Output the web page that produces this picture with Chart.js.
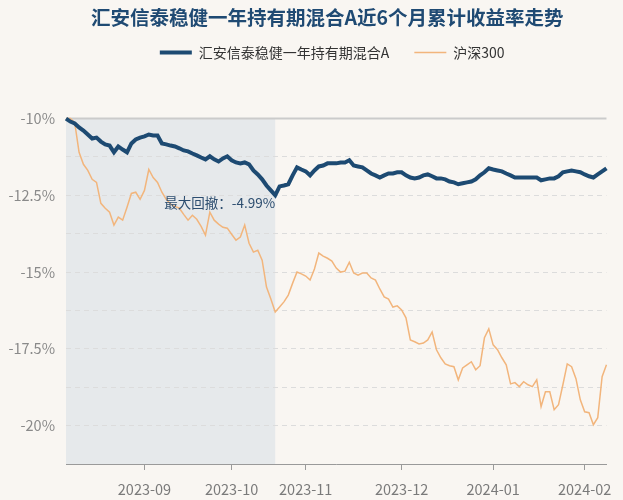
<!DOCTYPE html>
<html>
<head>
<meta charset="utf-8">
<script src="https://cdn.jsdelivr.net/npm/chart.js@4.4.1/dist/chart.umd.min.js"></script>
<style>
  html, body { margin: 0; padding: 0; background: #f9f6f2; }
  #wrap { width: 623px; height: 500px; }
</style>
</head>
<body>
<div id="wrap"><canvas id="cnv" width="623" height="500"></canvas></div>
<script>
// trading days shown on the x axis, by month
const tradingDays = [
  ['2023-08', [8, 9, 10, 11, 14, 15, 16, 17, 18, 21, 22, 23, 24, 25, 28, 29, 30, 31]],
  ['2023-09', [1, 4, 5, 6, 7, 8, 11, 12, 13, 14, 15, 18, 19, 20, 21, 22, 25, 26, 27, 28]],
  ['2023-10', [9, 10, 11, 12, 13, 16, 17, 18, 19, 20, 23, 24, 25, 26, 27, 30, 31]],
  ['2023-11', [1, 2, 3, 6, 7, 8, 9, 10, 13, 14, 15, 16, 17, 20, 21, 22, 23, 24, 27, 28, 29, 30]],
  ['2023-12', [1, 4, 5, 6, 7, 8, 11, 12, 13, 14, 15, 18, 19, 20, 21, 22, 25, 26, 27, 28, 29]],
  ['2024-01', [2, 3, 4, 5, 8, 9, 10, 11, 12, 15, 16, 17, 18, 19, 22, 23, 24, 25, 26, 29, 30]],
  ['2024-02', [1, 2, 5, 6, 7, 8]]
];

const fundName = '汇安信泰稳健一年持有期混合A';
const indexName = '沪深300';
const chartTitle = '汇安信泰稳健一年持有期混合A近6个月累计收益率走势';
const drawdownLabel = '最大回撤：-4.99%';

// cumulative return, %
const fundValues = [
  -10.00, -10.10, -10.16, -10.29, -10.39, -10.52, -10.65, -10.62, -10.75, -10.84,
  -10.88, -11.10, -10.91, -11.01, -11.10, -10.81, -10.68, -10.62, -10.58, -10.52,
  -10.55, -10.55, -10.81, -10.84, -10.88, -10.91, -10.97, -11.04, -11.07, -11.14,
  -11.20, -11.27, -11.33, -11.23, -11.33, -11.40, -11.30, -11.23, -11.36, -11.43,
  -11.46, -11.43, -11.49, -11.69, -11.82, -11.98, -12.18, -12.34, -12.50, -12.21,
  -12.18, -12.14, -11.85, -11.59, -11.66, -11.72, -11.85, -11.69, -11.56, -11.53,
  -11.46, -11.46, -11.46, -11.43, -11.43, -11.36, -11.53, -11.56, -11.59, -11.69,
  -11.79, -11.85, -11.92, -11.85, -11.79, -11.79, -11.75, -11.75, -11.85, -11.92,
  -11.95, -11.92, -11.85, -11.82, -11.88, -11.95, -11.95, -11.98, -12.05, -12.08,
  -12.14, -12.11, -12.08, -12.05, -11.98, -11.85, -11.75, -11.62, -11.66, -11.69,
  -11.72, -11.79, -11.85, -11.92, -11.92, -11.92, -11.92, -11.92, -11.92, -12.01,
  -11.98, -11.95, -11.95, -11.88, -11.75, -11.72, -11.69, -11.72, -11.75, -11.82,
  -11.88, -11.92, -11.82, -11.72, -11.62
];
const indexValues = [
  -10.00, -10.00, -10.13, -11.10, -11.49, -11.69, -11.98, -12.08, -12.76, -12.92,
  -13.05, -13.47, -13.21, -13.31, -12.89, -12.44, -12.40, -12.63, -12.34, -11.66,
  -11.92, -12.08, -12.40, -12.63, -12.79, -12.86, -12.92, -13.12, -13.31, -13.15,
  -13.28, -13.51, -13.80, -13.05, -13.31, -13.44, -13.54, -13.57, -13.77, -13.96,
  -13.86, -13.47, -14.06, -14.35, -14.29, -14.61, -15.49, -15.88, -16.30, -16.14,
  -15.97, -15.75, -15.36, -15.00, -15.06, -15.13, -15.26, -14.90, -14.38, -14.48,
  -14.55, -14.64, -14.87, -15.00, -14.97, -14.68, -15.03, -15.10, -15.03, -15.03,
  -15.19, -15.26, -15.55, -15.81, -15.88, -16.14, -16.10, -16.23, -16.49, -17.21,
  -17.27, -17.34, -17.31, -17.21, -16.95, -17.53, -17.79, -17.99, -18.05, -18.08,
  -18.51, -18.12, -18.02, -17.92, -18.18, -18.05, -17.14, -16.85, -17.37, -17.53,
  -17.79, -18.02, -18.64, -18.60, -18.73, -18.57, -18.67, -18.73, -18.51, -19.38,
  -18.90, -18.90, -19.48, -19.32, -18.67, -17.99, -18.08, -18.47, -19.16, -19.55,
  -19.58, -19.97, -19.74, -18.41, -18.02
];

// max drawdown window: first index .. trough index
const drawdownStart = 0;
const drawdownEnd = 48;
const yTop = -10;

const dates = [];
tradingDays.forEach(([ym, days]) => days.forEach(d => dates.push(ym + '-' + String(d).padStart(2, '0'))));

Chart.defaults.font.family = '"Noto Sans CJK SC", "Noto Sans", sans-serif';

const drawdownPlugin = {
  id: 'drawdown',
  afterLayout(chart) {
    // nudge title and legend a little left, as in the original
    chart.titleBlock.left -= 18;
    chart.legend.left -= 8;
  },
  beforeDraw(chart) {
    const { ctx, chartArea, scales: { x, y } } = chart;
    ctx.save();
    ctx.fillStyle = '#e6e9eb';
    const x0 = x.getPixelForValue(drawdownStart);
    const x1 = x.getPixelForValue(drawdownEnd);
    const y0 = y.getPixelForValue(yTop);
    ctx.fillRect(x0, y0, x1 - x0, chartArea.bottom - y0);
    ctx.restore();
  },
  beforeDatasetsDraw(chart) {
    const { ctx, chartArea, scales: { y } } = chart;
    const py = y.getPixelForValue(yTop);
    ctx.save();
    ctx.strokeStyle = '#cbcbcb';
    ctx.lineWidth = 2;
    ctx.beginPath();
    ctx.moveTo(chartArea.left, py);
    ctx.lineTo(chartArea.right, py);
    ctx.stroke();
    ctx.restore();
  },
  afterDatasetsDraw(chart) {
    const { ctx, scales: { x, y } } = chart;
    const px = x.getPixelForValue(drawdownEnd);
    const py = y.getPixelForValue(fundValues[drawdownEnd]);
    ctx.save();
    ctx.font = '13.5px "Noto Sans CJK SC", sans-serif';
    ctx.fillStyle = '#2c4d6f';
    ctx.textAlign = 'right';
    ctx.textBaseline = 'middle';
    ctx.fillText(drawdownLabel, px, py + 8);
    ctx.restore();
  }
};

const ctx = document.getElementById('cnv').getContext('2d');
new Chart(ctx, {
  type: 'line',
  data: {
    labels: dates,
    datasets: [
      { label: fundName, data: fundValues, borderColor: '#1d4a72', backgroundColor: '#1d4a72',
        borderWidth: 4, pointRadius: 0, tension: 0 },
      { label: indexName, data: indexValues, borderColor: '#f2b57c', backgroundColor: '#f2b57c',
        borderWidth: 1.5, pointRadius: 0, tension: 0 }
    ]
  },
  options: {
    responsive: false,
    animation: false,
    layout: { padding: { left: 0, right: 15, top: 0, bottom: 0 } },
    plugins: {
      title: {
        display: true, text: chartTitle, fullSize: false, color: '#1f4a73',
        font: { size: 19.5, weight: 'bold' }, padding: { top: 6, bottom: -9 }
      },
      legend: {
        display: true, fullSize: false,
        labels: {
          usePointStyle: true, pointStyle: 'line', pointStyleWidth: 32,
          color: '#333', font: { size: 14 }, padding: 25
        }
      },
      tooltip: { enabled: false }
    },
    scales: {
      x: {
        afterFit: s => { s.height = 36; },
        ticks: {
          autoSkip: false, maxRotation: 0, color: '#7a7a7a', font: { size: 14.5 }, padding: 11,
          callback: (v, i) => (i > 0 && dates[i].slice(0, 7) !== dates[i - 1].slice(0, 7)) ? dates[i].slice(0, 7) : null
        },
        grid: { drawOnChartArea: false, drawTicks: true, tickLength: 6, color: '#9a9a9a' },
        border: { display: true, color: '#9a9a9a', width: 1 }
      },
      y: {
        min: -21.25, max: -8.4,
        afterFit: s => { s.width = 66; },
        ticks: {
          stepSize: 1.25, color: '#8a8a8a', font: { size: 14.5 }, padding: 11,
          callback: v => (v <= -10 && Math.abs(v / 2.5 - Math.round(v / 2.5)) < 1e-6) ? v + '%' : ''
        },
        grid: {
          drawTicks: false,
          color: c => (c.tick && c.tick.value < -10.01) ? '#dcdcdc' : 'rgba(0,0,0,0)'
        },
        border: { display: false, dash: [5, 4] }
      }
    }
  },
  plugins: [drawdownPlugin]
});
</script>
</body>
</html>
